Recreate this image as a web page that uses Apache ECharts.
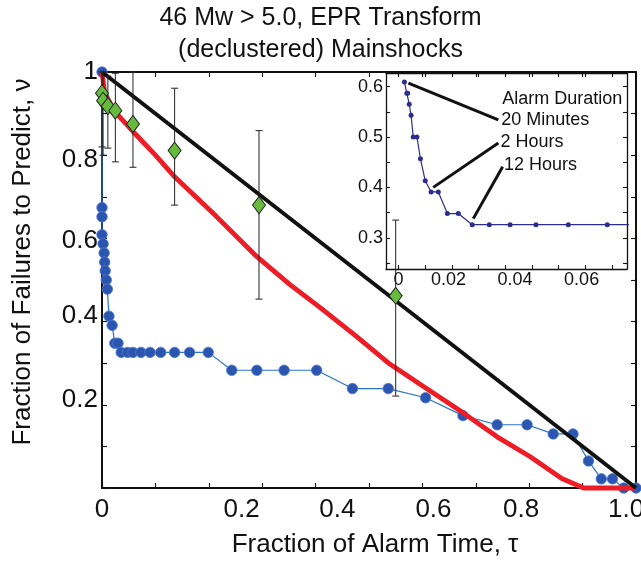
<!DOCTYPE html>
<html><head><meta charset="utf-8">
<script src="https://cdn.jsdelivr.net/npm/echarts@6/dist/echarts.min.js"></script>
<style>html,body{margin:0;padding:0;background:#fff}#c{width:641px;height:561px}</style>
</head><body><div id="c"></div>
<script>
// ---------------- data ----------------
const blueX = [0, 0, 0, 0, 0.002, 0.004, 0.005, 0.006, 0.008, 0.010, 0.013, 0.019, 0.024, 0.030,
  0.036, 0.048, 0.058, 0.073, 0.090, 0.110, 0.136, 0.164, 0.199,
  0.243, 0.290, 0.341, 0.402, 0.469, 0.536, 0.606, 0.676, 0.740, 0.796, 0.845, 0.882, 0.911, 0.935, 0.956, 0.977, 1.0];
const blueY = [1.0, 0.674, 0.652, 0.609, 0.587, 0.565, 0.543, 0.522, 0.5, 0.478, 0.413, 0.391, 0.348, 0.348,
  0.326, 0.326, 0.326, 0.326, 0.326, 0.326, 0.326, 0.326, 0.326,
  0.283, 0.283, 0.283, 0.283, 0.239, 0.239, 0.217, 0.174, 0.152, 0.152, 0.130, 0.130, 0.065, 0.022, 0.022, 0, 0];
const redX = [0, 0.005, 0.024, 0.058, 0.100, 0.136, 0.214, 0.290, 0.352, 0.408, 0.477, 0.539, 0.602, 0.677, 0.740, 0.802, 0.861, 0.902, 1.0];
const redY = [1.0, 0.950, 0.905, 0.857, 0.800, 0.748, 0.653, 0.556, 0.489, 0.434, 0.364, 0.298, 0.244, 0.180, 0.123, 0.075, 0.023, 0, 0];
const randomX = [0, 1];
const randomY = [1, 0];
const diamondX = [0, 0.002, 0.011, 0.025, 0.058, 0.136, 0.294, 0.550];
const diamondY = [0.949, 0.931, 0.918, 0.907, 0.875, 0.811, 0.680, 0.462];
const errLow  = [0.820, 0.800, 0.817, 0.784, 0.771, 0.680, 0.454, 0.221];
const errHigh = [1.000, 1.000, 0.990, 0.997, 1.000, 0.961, 0.859, 0.644];
const insetX = [0.0022, 0.0031, 0.0034, 0.0040, 0.0047, 0.0055, 0.0069, 0.0082, 0.0100, 0.0122, 0.0149,
  0.0183, 0.0224, 0.0276, 0.0340, 0.0418, 0.0515, 0.0636, 0.0782, 0.0950];
const insetY = [0.609, 0.587, 0.587, 0.565, 0.543, 0.500, 0.500, 0.457, 0.413, 0.391, 0.391,
  0.348, 0.348, 0.326, 0.326, 0.326, 0.326, 0.326, 0.326, 0.326];
const mainXTickLabels = ['0', '0.2', '0.4', '0.6', '0.8', '1.0'];
const mainYTickLabels = ['0.2', '0.4', '0.6', '0.8', '1'];
const insetXTickLabels = ['0', '0.02', '0.04', '0.06'];
const insetYTickLabels = ['0.3', '0.4', '0.5', '0.6'];
const annotations = ['Alarm Duration', '20 Minutes', '2 Hours', '12 Hours'];
const titleLines = ['46 Mw > 5.0, EPR Transform', '(declustered) Mainshocks'];

// ---------------- layout (where labels sit, as in the reference) ----------------
const mainXLabelAt = [0, 0.2614, 0.4407, 0.6207, 0.7847, 0.9816];
const mainYLabelAt = [0.212, 0.414, 0.594, 0.788, 1.0];
const mainTicks = [0, 0.1, 0.2, 0.3, 0.4, 0.5, 0.6, 0.7, 0.8, 0.9, 1.0];
const insetXLabelAt = [0, 0.0187, 0.0436, 0.0686];
const insetYLabelAt = [0.3, 0.4, 0.5, 0.6];
const insetXTicks = [0, 0.01, 0.02, 0.03, 0.04, 0.05, 0.06, 0.07, 0.08];
const insetYTicks = [0.25, 0.3, 0.35, 0.4, 0.45, 0.5, 0.55, 0.6];
const annotationAt = [[0.0387, 0.576], [0.0383, 0.533], [0.0380, 0.490], [0.0393, 0.444]];
const pointerLines = [
  [[0.0037, 0.607], [0.0374, 0.534]],
  [[0.0130, 0.400], [0.0374, 0.488]],
  [[0.0280, 0.338], [0.0390, 0.441]]
];

const FONT = "'Liberation Sans', Arial, Helvetica, sans-serif";
const TXT = '#111';
const zip = (xs, ys) => xs.map((x, i) => [x, ys[i]]);
const pick = (at, labels) => (v) => { const i = at.findIndex(a => Math.abs(a - v) < 1e-7); return i < 0 ? '' : labels[i]; };

function axis(o) {
  const lw = o.lw || 2;
  const a = {
    type: 'value', gridIndex: o.grid, position: o.position, min: o.min, max: o.max,
    splitLine: { show: false },
    axisLine: { show: true, onZero: false, lineStyle: { color: '#111', width: lw } },
    axisTick: { show: true, inside: true, length: o.tickLen || 5, customValues: o.ticks, lineStyle: { color: '#111', width: 1.1 } },
    axisLabel: { show: false }
  };
  if (o.labelAt) {
    a.axisLabel = { show: true, customValues: o.labelAt, formatter: pick(o.labelAt, o.labels),
      fontSize: o.fontSize, fontFamily: FONT, color: TXT, margin: o.margin };
  }
  if (o.name) {
    a.name = o.name; a.nameLocation = 'middle'; a.nameGap = o.nameGap;
    a.nameTextStyle = { fontSize: 26, fontFamily: FONT, color: TXT, padding: o.namePad || 0 };
  }
  return a;
}

const chart = echarts.init(document.getElementById('c'), null, { renderer: 'canvas' });
chart.setOption({
  animation: false,
  backgroundColor: '#fff',
  title: {
    text: titleLines.join('\n'), left: 'center', top: 0, padding: [2, 0, 0, 97],
    textStyle: { fontSize: 25, fontWeight: 'normal', fontFamily: FONT, color: TXT, lineHeight: 32 }
  },
  grid: [
    { left: 102, top: 72, width: 534, height: 416, outerBoundsMode: 'none' },
    { left: 386, top: 73, width: 241, height: 196, outerBoundsMode: 'none' }
  ],
  xAxis: [
    axis({ grid: 0, position: 'bottom', min: 0, max: 1, ticks: mainTicks, labelAt: mainXLabelAt, labels: mainXTickLabels,
      fontSize: 26, margin: 9, name: 'Fraction of Alarm Time, τ', nameGap: 44, namePad: [0, 0, 0, 12] }),
    axis({ grid: 0, position: 'top', min: 0, max: 1, ticks: mainTicks }),
    axis({ grid: 1, position: 'bottom', min: -0.0047, max: 0.0856, ticks: insetXTicks, labelAt: insetXLabelAt,
      labels: insetXTickLabels, fontSize: 18, margin: 2, lw: 1.3, tickLen: 4 }),
    axis({ grid: 1, position: 'top', min: -0.0047, max: 0.0856, ticks: insetXTicks, lw: 1.3, tickLen: 4 })
  ],
  yAxis: [
    axis({ grid: 0, position: 'left', min: 0, max: 1, ticks: mainTicks, labelAt: mainYLabelAt, labels: mainYTickLabels,
      fontSize: 26, margin: 4, name: 'Fraction of Failures to Predict, ν', nameGap: 66, namePad: [0, 0, 0, 36] }),
    axis({ grid: 0, position: 'right', min: 0, max: 1, ticks: mainTicks }),
    axis({ grid: 1, position: 'left', min: 0.238, max: 0.627, ticks: insetYTicks, labelAt: insetYLabelAt,
      labels: insetYTickLabels, fontSize: 18, margin: 3, lw: 1.3, tickLen: 4 }),
    axis({ grid: 1, position: 'right', min: 0.238, max: 0.627, ticks: insetYTicks, lw: 1.3, tickLen: 4 })
  ],
  series: [
    { type: 'line', name: 'EPR', xAxisIndex: 0, yAxisIndex: 0, data: zip(blueX, blueY), clip: false,
      symbol: 'circle', symbolSize: 10.5, showAllSymbol: true,
      lineStyle: { color: '#2a73c7', width: 1.2 },
      itemStyle: { color: '#2c55b0', borderColor: '#4a7bcf', borderWidth: 0.8, opacity: 1 }, z: 2 },
    { type: 'line', name: 'red', xAxisIndex: 0, yAxisIndex: 0, data: zip(redX, redY), clip: false,
      symbol: 'none', lineStyle: { color: '#ee1c25', width: 4.8 }, z: 3 },
    { type: 'line', name: 'random', xAxisIndex: 0, yAxisIndex: 0, data: zip(randomX, randomY), clip: false,
      symbol: 'none', lineStyle: { color: '#111', width: 4 }, z: 4 },
    { type: 'custom', name: 'err', xAxisIndex: 0, yAxisIndex: 0, z: 5,
      data: diamondX.map((x, i) => [x, errLow[i], errHigh[i]]),
      renderItem: function (params, api) {
        const x = api.value(0);
        const p1 = api.coord([x, api.value(2)]);
        const p2 = api.coord([x, api.value(1)]);
        const w = 3.5, st = { stroke: '#222', lineWidth: 1 };
        return { type: 'group', children: [
          { type: 'line', shape: { x1: p1[0], y1: p1[1], x2: p2[0], y2: p2[1] }, style: st },
          { type: 'line', shape: { x1: p1[0] - w, y1: p1[1], x2: p1[0] + w, y2: p1[1] }, style: st },
          { type: 'line', shape: { x1: p2[0] - w, y1: p2[1], x2: p2[0] + w, y2: p2[1] }, style: st }
        ] };
      } },
    { type: 'scatter', name: 'diamonds', xAxisIndex: 0, yAxisIndex: 0, data: zip(diamondX, diamondY), clip: false,
      symbol: 'diamond', symbolSize: [13, 17],
      itemStyle: { color: '#66bb3f', borderColor: '#222', borderWidth: 1, opacity: 1 }, z: 6 },
    { type: 'line', name: 'inset', xAxisIndex: 2, yAxisIndex: 2, data: zip(insetX, insetY), clip: true,
      symbol: 'circle', symbolSize: 5, showAllSymbol: true,
      lineStyle: { color: '#2b2e8e', width: 1.2 }, itemStyle: { color: '#2b2e8e', opacity: 1 }, z: 7,
      markLine: { silent: true, symbol: ['none', 'none'], label: { show: false }, animation: false,
        lineStyle: { color: '#111', width: 3, type: 'solid' },
        data: pointerLines.map(p => [{ coord: p[0] }, { coord: p[1] }]) } },
    { type: 'scatter', name: 'notes', xAxisIndex: 2, yAxisIndex: 2, silent: true, z: 8,
      data: annotations.map((t, i) => ({ name: t, value: annotationAt[i] })),
      symbolSize: 1, itemStyle: { color: 'rgba(0,0,0,0)', opacity: 1 },
      label: { show: true, position: 'right', distance: 0, formatter: '{b}', fontSize: 18, fontFamily: FONT,
        color: TXT, opacity: 1 } }
  ]
});
</script></body></html>
